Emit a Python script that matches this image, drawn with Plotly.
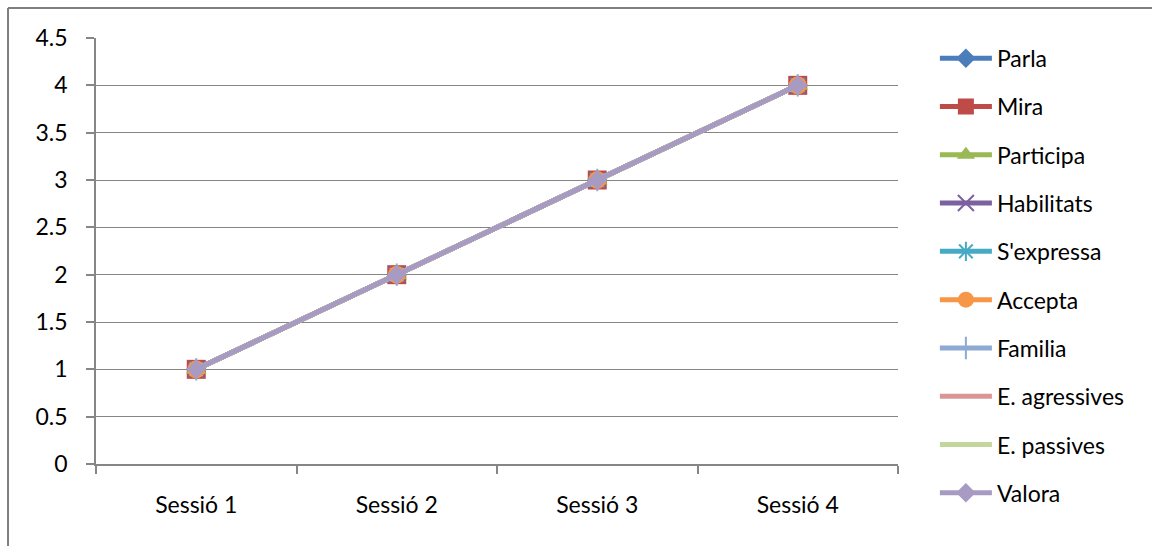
import plotly.graph_objects as go

sessions = ["Sessió 1", "Sessió 2", "Sessió 3", "Sessió 4"]

parla = [1, 2, 3, 4]
mira = [1, 2, 3, 4]
participa = [1, 2, 3, 4]
habilitats = [1, 2, 3, 4]
sexpressa = [1, 2, 3, 4]
accepta = [1, 2, 3, 4]
familia = [1, 2, 3, 4]
e_agressives = [1, 2, 3, 4]
e_passives = [1, 2, 3, 4]
valora = [1, 2, 3, 4]

y_ticks = [0, 0.5, 1, 1.5, 2, 2.5, 3, 3.5, 4, 4.5]
y_tick_text = ["0", "0.5", "1", "1.5", "2", "2.5", "3", "3.5", "4", "4.5"]

series = [
    ("Parla", parla, "#4A7EBB", dict(symbol="diamond", size=15)),
    ("Mira", mira, "#BE4B48", dict(symbol="square", size=19)),
    ("Participa", participa, "#98B954", dict(symbol="triangle-up", size=18)),
    ("Habilitats", habilitats, "#7D60A0", dict(symbol="x-thin-open", size=16, line=dict(width=2))),
    ("S'expressa", sexpressa, "#46AAC5", dict(symbol="asterisk-open", size=16, line=dict(width=2))),
    ("Accepta", accepta, "#F79646", dict(symbol="circle", size=18)),
    ("Familia", familia, "#8EA9D4", dict(symbol="line-ns-open", size=16, line=dict(width=2))),
    ("E. agressives", e_agressives, "#D99694", dict(size=0, opacity=0)),
    ("E. passives", e_passives, "#C3D69B", dict(size=0, opacity=0)),
    ("Valora", valora, "#A89BC3", dict(symbol="diamond", size=15)),
]

fig = go.Figure()
for name, vals, color, marker in series:
    m = dict(color=color)
    m.update(marker)
    if "line" in m:
        m["line"] = dict(color=color, width=m["line"]["width"])
    fig.add_trace(go.Scatter(
        x=sessions, y=vals, name=name, mode="lines+markers",
        line=dict(color=color, width=5),
        marker=m, legendgroup=name,
    ))

axis_gray = "#868686"
font_family = "Lato, 'Noto Sans', sans-serif"

fig.update_layout(
    width=1152, height=546,
    margin=dict(l=96, r=254, t=38, b=82),
    paper_bgcolor="white", plot_bgcolor="white",
    font=dict(family=font_family, size=23, color="#000000"),
    showlegend=True,
    legend=dict(
        x=1.046, y=1.003, xanchor="left", yanchor="top",
        font=dict(family=font_family, size=23, color="#000000"),
        tracegroupgap=15.4, itemwidth=52, maxheight=600,
        bgcolor="rgba(0,0,0,0)",
    ),
    xaxis=dict(
        type="category", range=[-0.5, 3.5],
        showgrid=False, showline=True, linecolor=axis_gray, linewidth=1.5,
        ticks="outside", tickson="boundaries", ticklen=8, tickcolor=axis_gray, tickwidth=1.5,
        ticklabelstandoff=20, zeroline=False,
    ),
    yaxis=dict(
        range=[0, 4.5], tickvals=y_ticks, ticktext=y_tick_text,
        showgrid=True, gridcolor=axis_gray, gridwidth=1,
        showline=True, linecolor=axis_gray, linewidth=1.5,
        ticks="outside", ticklen=8, tickcolor=axis_gray, tickwidth=1.5,
        ticklabelstandoff=14, zeroline=False,
    ),
)

# chart frame: left and top edges
fig.add_shape(type="line", xref="paper", yref="paper",
              x0=-0.1097, x1=-0.1097, y0=-0.2, y1=1.0704,
              line=dict(color="#7F7F7F", width=2))
fig.add_shape(type="line", xref="paper", yref="paper",
              x0=-0.1097, x1=1.32, y0=1.0704, y1=1.0704,
              line=dict(color="#7F7F7F", width=2))

fig.write_html("out.html")
